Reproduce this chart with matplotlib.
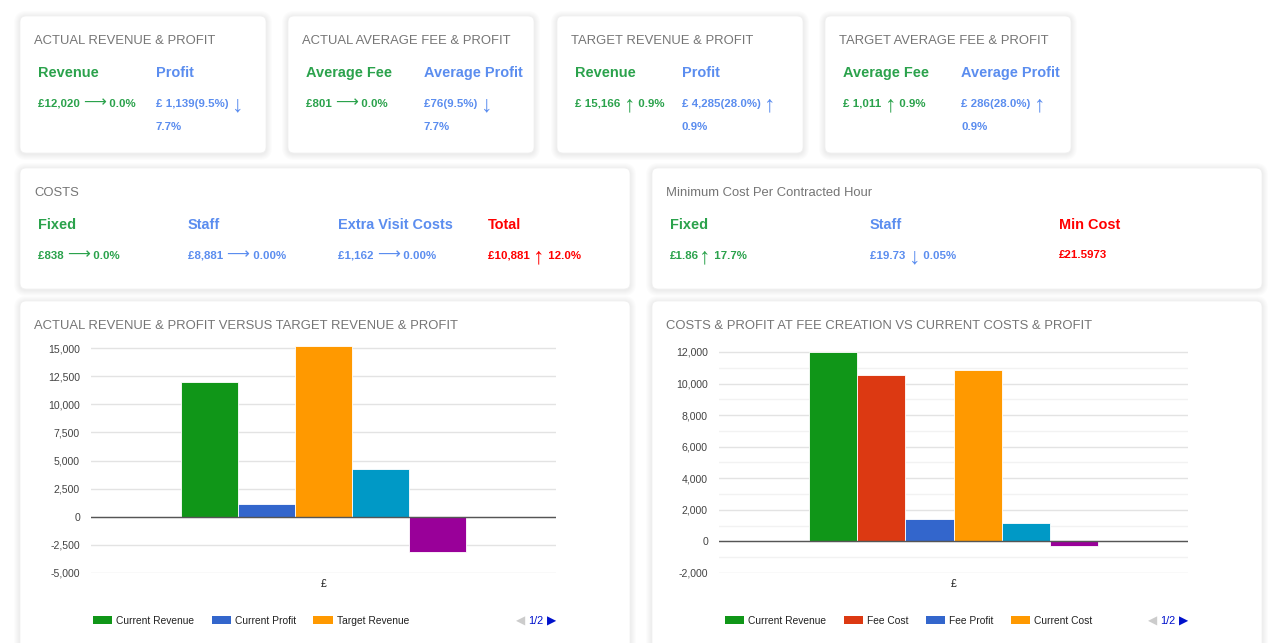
import matplotlib
matplotlib.use("Agg")
import matplotlib.pyplot as plt
from matplotlib.patches import FancyBboxPatch, Patch

plt.rcParams['font.family'] = ['Liberation Sans', 'DejaVu Sans']

# ---- data ----
left_series = ['Current Revenue', 'Current Profit', 'Target Revenue', 'Target Profit', 'Profit Difference']
left_values = [12020, 1139, 15166, 4285, -3146]
left_colors = ['#109618', '#3366cc', '#ff9900', '#0099c6', '#990099']
left_ticks = [-5000, -2500, 0, 2500, 5000, 7500, 10000, 12500, 15000]

right_series = ['Current Revenue', 'Fee Cost', 'Fee Profit', 'Current Cost', 'Current Profit', 'Profit Difference']
right_values = [12020, 10540, 1440, 10881, 1139, -301]
right_colors = ['#109618', '#dc3912', '#3366cc', '#ff9900', '#0099c6', '#990099']
right_ticks = [-2000, 0, 2000, 4000, 6000, 8000, 10000, 12000]
right_minor = [-1000, 1000, 3000, 5000, 7000, 9000, 11000]

category = '£'

GREEN = '#2ba24c'
BLUE = '#5b8def'
RED = '#ff0000'
GRAY = '#757575'

W, H = 1280, 643
fig = plt.figure(figsize=(W / 100, H / 100), dpi=100)
fig.patch.set_facecolor('white')

bg = fig.add_axes([0, 0, 1, 1], zorder=0)
bg.set_xlim(0, W)
bg.set_ylim(H, 0)
bg.axis('off')
renderer = fig.canvas.get_renderer()


def px(v):
    return v * 0.72


def card(x, y, w, h):
    # soft shadow: several faint layers growing outwards
    for grow in range(6, 0, -1):
        bg.add_patch(FancyBboxPatch((x - grow, y - grow + 1), w + 2 * grow, h + 2 * grow,
                                    boxstyle="round,pad=0,rounding_size=%d" % (6 + grow),
                                    fc='black', ec='none', alpha=0.012, zorder=1))
    bg.add_patch(FancyBboxPatch((x, y), w, h, boxstyle="round,pad=0,rounding_size=6",
                                fc='white', ec='#f0f0f0', lw=0.5, zorder=2))


def title(x, y, s):
    bg.text(x, y, s, fontsize=px(13), color=GRAY, va='baseline', zorder=3)


def header(x, y, s, color):
    bg.text(x, y, s, fontsize=px(14.5), color=color, fontweight='bold', va='baseline', zorder=3)


def runs(x, y, parts, color):
    for s, kind in parts:
        if kind == 'arrow':
            t = bg.text(x, y + 4, s, fontsize=px(23), color=color, va='baseline',
                        family=['Liberation Sans', 'DejaVu Sans'], fontweight='light', zorder=3)
        elif kind == 'long':
            t = bg.text(x, y, s, fontsize=px(16), color=color, va='baseline',
                        family=['DejaVu Sans'], zorder=3)
        else:
            t = bg.text(x, y, s, fontsize=px(11.5), color=color, fontweight='bold',
                        va='baseline', zorder=3)
        x += t.get_window_extent(renderer).width


# ---- top cards ----
top_cards = [
    (20, 'ACTUAL REVENUE & PROFIT', 'Revenue', 'Profit', 118,
     [('£12,020 ', 't'), ('⟶', 'long'), (' 0.0%', 't')],
     [('£ 1,139(9.5%) ', 't'), ('↓', 'arrow')], '7.7%'),
    (288, 'ACTUAL AVERAGE FEE & PROFIT', 'Average Fee', 'Average Profit', 118,
     [('£801 ', 't'), ('⟶', 'long'), (' 0.0%', 't')],
     [('£76(9.5%) ', 't'), ('↓', 'arrow')], '7.7%'),
    (557, 'TARGET REVENUE & PROFIT', 'Revenue', 'Profit', 107,
     [('£ 15,166 ', 't'), ('↑', 'arrow'), (' 0.9%', 't')],
     [('£ 4,285(28.0%) ', 't'), ('↑', 'arrow')], '0.9%'),
    (825, 'TARGET AVERAGE FEE & PROFIT', 'Average Fee', 'Average Profit', 118,
     [('£ 1,011 ', 't'), ('↑', 'arrow'), (' 0.9%', 't')],
     [('£ 286(28.0%) ', 't'), ('↑', 'arrow')], '0.9%'),
]
for x0, ttl, h1, h2, dx, v1, v2, v3 in top_cards:
    card(x0, 16, 246, 137)
    title(x0 + 14, 44, ttl)
    header(x0 + 18, 77, h1, GREEN)
    header(x0 + 18 + dx, 77, h2, BLUE)
    runs(x0 + 18, 107, v1, GREEN)
    runs(x0 + 18 + dx, 107, v2, BLUE)
    bg.text(x0 + 18 + dx, 130, v3, fontsize=px(11.5), color=BLUE, fontweight='bold',
            va='baseline', zorder=3)

# ---- costs cards ----
card(20, 168, 610, 121)
title(34, 196, 'COSTS')
header(38, 229, 'Fixed', GREEN)
header(188, 229, 'Staff', BLUE)
header(338, 229, 'Extra Visit Costs', BLUE)
header(488, 229, 'Total', RED)
runs(38, 259, [('£838 ', 't'), ('⟶', 'long'), (' 0.0%', 't')], GREEN)
runs(188, 259, [('£8,881 ', 't'), ('⟶', 'long'), (' 0.00%', 't')], BLUE)
runs(338, 259, [('£1,162 ', 't'), ('⟶', 'long'), (' 0.00%', 't')], BLUE)
runs(488, 259, [('£10,881 ', 't'), ('↑', 'arrow'), (' 12.0%', 't')], RED)

card(652, 168, 610, 121)
title(666, 196, 'Minimum Cost Per Contracted Hour')
header(670, 229, 'Fixed', GREEN)
header(870, 229, 'Staff', BLUE)
header(1059, 229, 'Min Cost', RED)
runs(670, 259, [('£1.86', 't'), ('↑', 'arrow'), (' 17.7%', 't')], GREEN)
runs(870, 259, [('£19.73 ', 't'), ('↓', 'arrow'), (' 0.05%', 't')], BLUE)
runs(1059, 258, [('£21.5973', 't')], RED)

# ---- chart cards ----
card(20, 301, 610, 360)
card(652, 301, 610, 360)
title(34, 329, 'ACTUAL REVENUE & PROFIT VERSUS TARGET REVENUE & PROFIT')
title(666, 329, 'COSTS & PROFIT AT FEE CREATION VS CURRENT COSTS & PROFIT')


def bar_chart(rect, values, colors, names, ylim, ticks, minor, n_legend, legend_x):
    l, t, r, b = rect
    ax = fig.add_axes([l / W, 1 - b / H, (r - l) / W, (b - t) / H], zorder=2)
    ax.set_facecolor('none')
    n = len(values)
    group = 0.615
    w = group / n
    xs = [-group / 2 + (i + 0.5) * w for i in range(n)]
    ax.bar(xs, values, width=w, color=colors, edgecolor='white', linewidth=0.6, zorder=3)
    for m in minor:
        ax.axhline(m, color='#f2f2f2', lw=1, zorder=1)
    for tk in ticks:
        ax.axhline(tk, color='#e3e3e3', lw=1, zorder=1)
    ax.axhline(0, color='#555555', lw=1, zorder=4)
    ax.set_xlim(-0.5, 0.5)
    ax.set_ylim(*ylim)
    ax.set_yticks(ticks)
    ax.set_yticklabels(['{:,}'.format(v) for v in ticks])
    ax.set_xticks([0])
    ax.set_xticklabels([category])
    ax.tick_params(length=0, labelsize=px(10.5), labelcolor='#444444')
    ax.tick_params(axis='y', pad=8)
    ax.tick_params(axis='x', pad=4, labelcolor='#222222')
    for s in ax.spines.values():
        s.set_visible(False)
    handles = [Patch(facecolor=colors[i], edgecolor='none', label=names[i]) for i in range(n_legend)]
    fig.legend(handles=handles, loc='center left', bbox_to_anchor=(legend_x / W, 1 - 620.5 / H),
               ncol=n_legend, frameon=False, fontsize=px(10.3), handlelength=1.85, handleheight=0.9,
               handletextpad=0.4, columnspacing=1.7, borderpad=0, borderaxespad=0,
               labelcolor='#222222')
    # pager
    t1 = bg.text(r, 624.5, '▶', fontsize=px(12), color='#0011cc', ha='right', va='baseline',
                 family=['DejaVu Sans'], zorder=3)
    x1 = r - t1.get_window_extent(renderer).width - 3
    t2 = bg.text(x1, 624.5, '1/2', fontsize=px(11), color='#0011cc', ha='right', va='baseline', zorder=3)
    x2 = x1 - t2.get_window_extent(renderer).width - 3
    bg.text(x2, 624.5, '◀', fontsize=px(12), color='#cccccc', ha='right', va='baseline',
            family=['DejaVu Sans'], zorder=3)
    return ax


bar_chart((91, 345.8, 556, 573), left_values, left_colors, left_series,
          (-5000, 15200), left_ticks, [], 3, 93)
bar_chart((719, 350.4, 1188, 573), right_values, right_colors, right_series,
          (-2000, 12100), right_ticks, right_minor, 4, 725)

fig.savefig('out.png', dpi=100, facecolor='white')
